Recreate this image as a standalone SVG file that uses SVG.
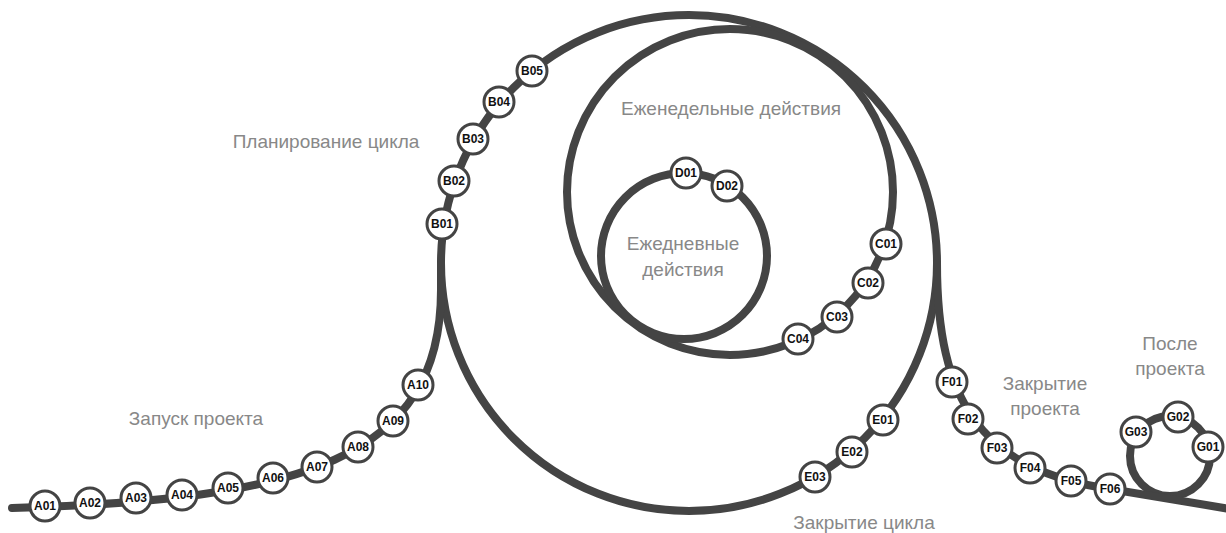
<svg xmlns="http://www.w3.org/2000/svg" width="1226" height="533" viewBox="0 0 1226 533">
<style>
.trk{fill:none;stroke:#444;stroke-width:8;stroke-linecap:round}
.nd circle{fill:#fff;stroke:#444;stroke-width:3}
.nd text{font-family:"Liberation Sans",Arial,sans-serif;font-weight:bold;font-size:12px;fill:#111;text-anchor:middle;dominant-baseline:central}
.lbl{font-family:"Liberation Sans",Arial,sans-serif;font-size:19px;fill:#888;text-anchor:middle;dominant-baseline:central}
</style>
<rect width="1226" height="533" fill="#fff"/>
<g id="connectors">
<circle class="trk" cx="689" cy="263" r="248"/>
<circle class="trk" cx="730" cy="192" r="163"/>
<circle class="trk" cx="684" cy="256" r="83"/>
<circle class="trk" cx="1170" cy="456" r="40"/>
<path class="trk" d="M12 508 C300 500 441 460 441 290 L441 263"/>
<path class="trk" d="M937 263 C937 400 980 470 1110 489 L1230 509"/>
</g>
<g id="labels">
<text class="lbl" x="196" y="418">Запуск проекта</text>
<text class="lbl" x="326" y="141">Планирование цикла</text>
<text class="lbl" x="731" y="108">Еженедельные действия</text>
<text class="lbl" x="683" y="243">Ежедневные</text>
<text class="lbl" x="683" y="269">действия</text>
<text class="lbl" x="864" y="522">Закрытие цикла</text>
<text class="lbl" x="1045" y="383">Закрытие</text>
<text class="lbl" x="1045" y="408">проекта</text>
<text class="lbl" x="1170" y="343">После</text>
<text class="lbl" x="1170" y="368">проекта</text>
</g>
<g id="A01" class="nd"><circle cx="45" cy="506" r="15"/><text x="45" y="506">A01</text></g>
<g id="A02" class="nd"><circle cx="90" cy="503" r="15"/><text x="90" y="503">A02</text></g>
<g id="A03" class="nd"><circle cx="136" cy="498" r="15"/><text x="136" y="498">A03</text></g>
<g id="A04" class="nd"><circle cx="182" cy="495" r="15"/><text x="182" y="495">A04</text></g>
<g id="A05" class="nd"><circle cx="228" cy="488" r="15"/><text x="228" y="488">A05</text></g>
<g id="A06" class="nd"><circle cx="273" cy="478" r="15"/><text x="273" y="478">A06</text></g>
<g id="A07" class="nd"><circle cx="317" cy="467" r="15"/><text x="317" y="467">A07</text></g>
<g id="A08" class="nd"><circle cx="358" cy="447" r="15"/><text x="358" y="447">A08</text></g>
<g id="A09" class="nd"><circle cx="393" cy="421" r="15"/><text x="393" y="421">A09</text></g>
<g id="A10" class="nd"><circle cx="418" cy="385" r="15"/><text x="418" y="385">A10</text></g>
<g id="B01" class="nd"><circle cx="442" cy="224" r="15"/><text x="442" y="224">B01</text></g>
<g id="B02" class="nd"><circle cx="454" cy="181" r="15"/><text x="454" y="181">B02</text></g>
<g id="B03" class="nd"><circle cx="473" cy="139" r="15"/><text x="473" y="139">B03</text></g>
<g id="B04" class="nd"><circle cx="499" cy="102" r="15"/><text x="499" y="102">B04</text></g>
<g id="B05" class="nd"><circle cx="532" cy="71" r="15"/><text x="532" y="71">B05</text></g>
<g id="C01" class="nd"><circle cx="886" cy="244" r="15"/><text x="886" y="244">C01</text></g>
<g id="C02" class="nd"><circle cx="868" cy="283" r="15"/><text x="868" y="283">C02</text></g>
<g id="C03" class="nd"><circle cx="837" cy="317" r="15"/><text x="837" y="317">C03</text></g>
<g id="C04" class="nd"><circle cx="798" cy="339" r="15"/><text x="798" y="339">C04</text></g>
<g id="D01" class="nd"><circle cx="686" cy="173" r="15"/><text x="686" y="173">D01</text></g>
<g id="D02" class="nd"><circle cx="727" cy="186" r="15"/><text x="727" y="186">D02</text></g>
<g id="E01" class="nd"><circle cx="883" cy="420" r="15"/><text x="883" y="420">E01</text></g>
<g id="E02" class="nd"><circle cx="852" cy="452" r="15"/><text x="852" y="452">E02</text></g>
<g id="E03" class="nd"><circle cx="815" cy="477" r="15"/><text x="815" y="477">E03</text></g>
<g id="F01" class="nd"><circle cx="952" cy="382" r="15"/><text x="952" y="382">F01</text></g>
<g id="F02" class="nd"><circle cx="968" cy="419" r="15"/><text x="968" y="419">F02</text></g>
<g id="F03" class="nd"><circle cx="997" cy="448" r="15"/><text x="997" y="448">F03</text></g>
<g id="F04" class="nd"><circle cx="1030" cy="468" r="15"/><text x="1030" y="468">F04</text></g>
<g id="F05" class="nd"><circle cx="1071" cy="481" r="15"/><text x="1071" y="481">F05</text></g>
<g id="F06" class="nd"><circle cx="1110" cy="489" r="15"/><text x="1110" y="489">F06</text></g>
<g id="G01" class="nd"><circle cx="1208" cy="447" r="15"/><text x="1208" y="447">G01</text></g>
<g id="G02" class="nd"><circle cx="1178" cy="417" r="15"/><text x="1178" y="417">G02</text></g>
<g id="G03" class="nd"><circle cx="1136" cy="432" r="15"/><text x="1136" y="432">G03</text></g>
</svg>
